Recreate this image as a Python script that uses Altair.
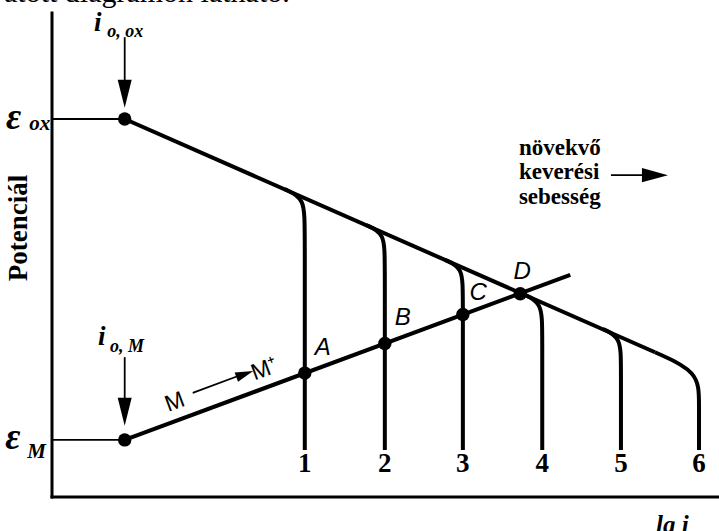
import altair as alt
import pandas as pd

SERIF = "Liberation Serif"
SANS = "Liberation Sans"
INK = "#000000"

# ---- values in arbitrary units: lg i (x) and potential (y) ----
# Tafel line of the oxidant, from (i_o,ox ; E_ox) to where curve 6 branches off
ox_line_lg_i = [10.9, 90.4]
ox_line_pot = [78.1, 29.9]
# anodic line of the metal, from (i_o,M ; E_M)
metal_line_lg_i = [10.9, 77.7]
metal_line_pot = [11.8, 45.9]

# limiting-current curves 1..6: branch point, corner, end of bend, foot
curve_labels = ["1", "2", "3", "4", "5", "6"]
curve_lg_i = [
    [34.9, 37.9, 37.9, 37.9],
    [47.1, 49.9, 49.9, 49.9],
    [58.9, 61.6, 61.6, 61.6],
    [70.5, 73.5, 73.5, 73.5],
    [82.6, 85.3, 85.3, 85.3],
    [90.4, 97.0, 97.0, 97.0],
]
curve_pot = [
    [63.6, 61.7, 55.6, 9.7],
    [56.2, 54.5, 48.6, 9.7],
    [49.0, 47.4, 41.7, 9.7],
    [42.0, 40.2, 34.1, 9.7],
    [34.7, 33.0, 27.1, 9.7],
    [29.9, 25.9, 19.6, 9.7],
]
curve_label_pot = 6.8

# marked points: equilibrium points and mixed potentials A-D
point_names = ["E_ox", "E_M", "A", "B", "C", "D"]
point_lg_i = [10.9, 10.9, 37.9, 49.9, 61.6, 70.2]
point_pot = [78.1, 11.8, 25.6, 31.7, 37.7, 42.0]

letter_names = ["A", "B", "C", "D"]
letter_lg_i = [40.6, 52.6, 63.9, 70.5]
letter_pot = [30.8, 37.0, 42.1, 46.5]

# ---- build tables ----
def path_rows(pid, xs, ys):
    return [dict(path=pid, i=k, lg_i=x, pot=y) for k, (x, y) in enumerate(zip(xs, ys))]

thick = path_rows("ox", ox_line_lg_i, ox_line_pot) + path_rows("metal", metal_line_lg_i, metal_line_pot)
for name, xs, ys in zip(curve_labels, curve_lg_i, curve_pot):
    thick += path_rows("curve" + name, xs, ys)
thick_df = pd.DataFrame(thick)

# coordinate axes (drawn as plain lines along the plot edges)
axes_df = pd.DataFrame(
    path_rows("y_axis", [0, 0], [0, 100]) + path_rows("x_axis", [0, 100], [0, 0])
)

thin = []
thin += path_rows("h_ox", [0, point_lg_i[0]], [point_pot[0]] * 2)
thin += path_rows("h_m", [0, point_lg_i[1]], [point_pot[1]] * 2)
thin += path_rows("arr_ox", [10.9, 10.9], [95.0, 84.5])
thin += path_rows("arr_m", [10.9, 10.9], [28.9, 19.0])
thin += path_rows("arr_mm", [21.1, 27.9], [21.5, 25.0])
thin += path_rows("arr_mix", [83.8, 88.9], [66.5, 66.5])
thin_df = pd.DataFrame(thin)

xs = alt.Scale(domain=[0, 100], nice=False, zero=False)
ys = alt.Scale(domain=[0, 100], nice=False, zero=False)


def X(field):
    return alt.X(field, type="quantitative", scale=xs, axis=None)


def Y(field):
    return alt.Y(field, type="quantitative", scale=ys, axis=None)


axes = alt.Chart(axes_df).mark_line(strokeWidth=3, color=INK, strokeCap="square").encode(
    x=X("lg_i"), y=Y("pot"), detail="path:N", order="i:Q"
)

lines = alt.Chart(thick_df).mark_line(
    interpolate="basis", strokeWidth=4, color=INK, strokeCap="butt"
).encode(x=X("lg_i"), y=Y("pot"), detail="path:N", order="i:Q")

thin_lines = alt.Chart(thin_df).mark_line(strokeWidth=1.8, color=INK).encode(
    x=X("lg_i"), y=Y("pot"), detail="path:N", order="i:Q"
)

dots = alt.Chart(pd.DataFrame({"name": point_names, "lg_i": point_lg_i, "pot": point_pot})).mark_circle(
    size=180, color=INK, opacity=1
).encode(x=X("lg_i"), y=Y("pot"))

# arrowheads
down_head = "M-0.5,-1L0.5,-1L0,1Z"
right_head = "M-1,-0.55L1,0L-1,0.55Z"
heads_down = alt.Chart(pd.DataFrame({"lg_i": [10.9, 10.9], "pot": [83.3, 17.6]})).mark_point(
    shape=down_head, size=784, filled=True, color=INK, opacity=1, strokeWidth=0
).encode(x=X("lg_i"), y=Y("pot"))
head_mm = alt.Chart(pd.DataFrame({"lg_i": [28.9], "pot": [25.4]})).mark_point(
    shape=right_head, size=324, filled=True, color=INK, opacity=1, strokeWidth=0, angle=339.6
).encode(x=X("lg_i"), y=Y("pot"))
head_mix = alt.Chart(pd.DataFrame({"lg_i": [90.4], "pot": [66.5]})).mark_point(
    shape=right_head, size=676, filled=True, color=INK, opacity=1, strokeWidth=0
).encode(x=X("lg_i"), y=Y("pot"))


def text_layer(texts, xv, yv, **kw):
    df = pd.DataFrame({"t": texts, "lg_i": xv, "pot": yv})
    return alt.Chart(df).mark_text(color=INK, **kw).encode(x=X("lg_i"), y=Y("pot"), text="t:N")


numbers = text_layer(curve_labels, [c[-1] for c in curve_lg_i], [curve_label_pot] * 6,
                     font=SERIF, fontSize=27, fontWeight="bold", align="center", baseline="middle")
letters = text_layer(letter_names, letter_lg_i, letter_pot,
                     font=SANS, fontSize=24, fontStyle="italic", align="center", baseline="middle")
eps = text_layer(["ε", "ε"], [-6.9, -7.0], [76.0, 9.9],
                 font=SERIF, fontSize=37, fontStyle="italic", fontWeight="bold",
                 align="left", baseline="alphabetic")
eps_sub = text_layer(["ox", "M"], [-3.4, -3.7], [75.8, 8.1],
                     font=SERIF, fontSize=21, fontStyle="italic", fontWeight="bold",
                     align="left", baseline="alphabetic")
i_main = text_layer(["i", "i"], [6.3, 6.9], [96.2, 31.4],
                    font=SERIF, fontSize=27, fontStyle="italic", fontWeight="bold",
                    align="left", baseline="alphabetic")
i_sub = text_layer(["o, ox", "o, M"], [8.3, 8.7], [95.0, 30.0],
                   font=SERIF, fontSize=18, fontStyle="italic", fontWeight="bold",
                   align="left", baseline="alphabetic")
mm = text_layer(["M", "M⁺"], [18.4, 31.9], [19.6, 26.4],
                font=SANS, fontSize=23, align="center", baseline="middle", angle=339.6)
stir = text_layer(["növekvő", "keverési", "sebesség"], [70.0] * 3, [70.7, 65.6, 60.5],
                  font=SERIF, fontSize=23, fontWeight="bold", align="left", baseline="alphabetic")
y_title = text_layer(["Potenciál"], [-4.9], [55.6],
                     font=SERIF, fontSize=27, fontWeight="bold", align="center",
                     baseline="middle", angle=270)
x_title = text_layer(["lg i"], [93.0], [-7.4],
                     font=SERIF, fontSize=25, fontStyle="italic", fontWeight="bold",
                     align="center", baseline="alphabetic")
top_line = text_layer(["atott diagramon látható."], [-7.2], [102.3],
                      font=SERIF, fontSize=30, align="left", baseline="alphabetic")

chart = alt.layer(
    axes, lines, thin_lines, heads_down, head_mm, head_mix, dots,
    numbers, letters, eps, eps_sub, i_main, i_sub, mm, stir, y_title, x_title, top_line
).properties(
    width=667, height=484,
    padding={"left": 52, "top": 13, "right": 0, "bottom": 34},
    autosize=alt.AutoSizeParams(type="none"),
    background="white",
).configure_view(stroke=None)

chart.save("out.html", embed_options={"renderer": "svg", "actions": False})
